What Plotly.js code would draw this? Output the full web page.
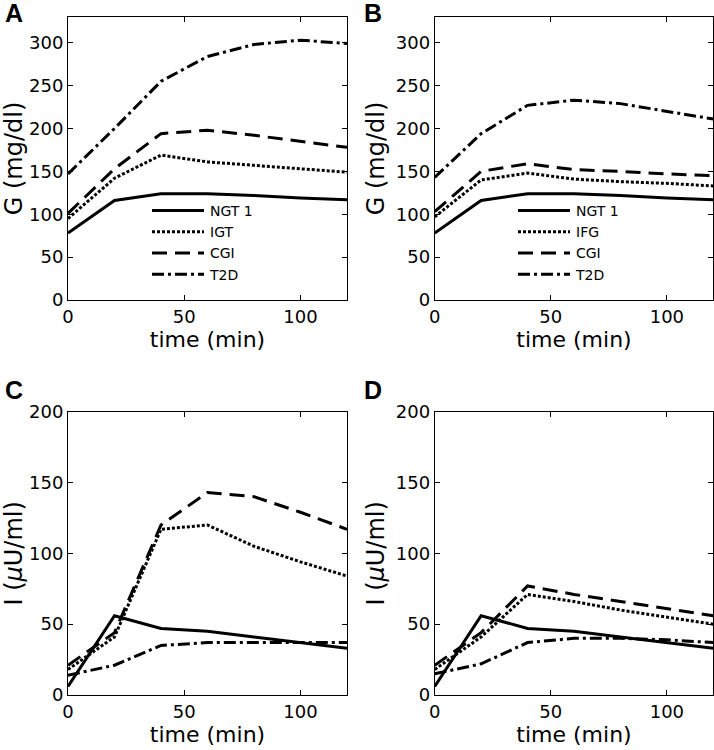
<!DOCTYPE html>
<html>
<head>
<meta charset="utf-8">
<script src="https://cdn.plot.ly/plotly-3.0.1.min.js"></script>
<style>html,body{margin:0;padding:0;background:#fff;}#chart{width:714px;height:750px;}</style>
</head>
<body>
<div id="chart"></div>
<script>
// Time points (min)
const time = [0, 20, 40, 60, 80, 100, 120];

// Panel A: glucose G (mg/dl)
const ngt_G  = [78, 116, 124, 124, 122, 119, 117];
const igt_G  = [95, 142, 169, 161, 157, 153, 149];
const cgiA_G = [101, 153, 194, 198, 192, 185, 178];
const t2dA_G = [147, 200, 255, 284, 298, 303, 299];

// Panel B: glucose G (mg/dl)
const ifg_G  = [97, 140, 148, 141, 138, 136, 133];
const cgiB_G = [103, 150, 159, 152, 150, 147, 145];
const t2dB_G = [143, 194, 227, 233, 229, 220, 211];

// Panel C: insulin I (µU/ml)
const ngt_I  = [6, 56, 47, 45, 41, 37, 33];
const igt_I  = [18, 41, 117, 120, 105, 94, 84];
const cgiC_I = [21, 44, 120, 143, 140, 129, 117];
const t2dC_I = [14, 21, 35, 37, 37, 37, 37];

// Panel D: insulin I (µU/ml)
const ifg_I  = [18, 41, 71, 66, 60, 55, 50];
const cgiD_I = [21, 44, 77, 71, 66, 61, 56];
const t2dD_I = [15, 22, 37, 40, 40, 39, 37];

const names = {ngt: 'NGT 1', igt: 'IGT', ifg: 'IFG', cgi: 'CGI', t2d: 'T2D'};

const W = 3;
const styles = {
  solid:  {color: '#000', width: W, dash: 'solid'},
  dot:    {color: '#000', width: W, dash: '3px,2px'},
  dash:   {color: '#000', width: W, dash: '15px,8px'},
  dashdot:{color: '#000', width: W, dash: '12px,4px,3px,4px'}
};

function tr(y, name, st, xa, ya, leg, show) {
  return {x: time, y: y, name: name, type: 'scatter', mode: 'lines',
    line: styles[st], xaxis: xa, yaxis: ya, legend: leg, showlegend: show, hoverinfo: 'skip'};
}

const data = [
  tr(ngt_G, names.ngt, 'solid', 'x', 'y', 'legend', true),
  tr(igt_G, names.igt, 'dot', 'x', 'y', 'legend', true),
  tr(cgiA_G, names.cgi, 'dash', 'x', 'y', 'legend', true),
  tr(t2dA_G, names.t2d, 'dashdot', 'x', 'y', 'legend', true),

  tr(ngt_G, names.ngt, 'solid', 'x2', 'y2', 'legend2', true),
  tr(ifg_G, names.ifg, 'dot', 'x2', 'y2', 'legend2', true),
  tr(cgiB_G, names.cgi, 'dash', 'x2', 'y2', 'legend2', true),
  tr(t2dB_G, names.t2d, 'dashdot', 'x2', 'y2', 'legend2', true),

  tr(ngt_I, names.ngt, 'solid', 'x3', 'y3', 'legend', false),
  tr(igt_I, names.igt, 'dot', 'x3', 'y3', 'legend', false),
  tr(cgiC_I, names.cgi, 'dash', 'x3', 'y3', 'legend', false),
  tr(t2dC_I, names.t2d, 'dashdot', 'x3', 'y3', 'legend', false),

  tr(ngt_I, names.ngt, 'solid', 'x4', 'y4', 'legend', false),
  tr(ifg_I, names.ifg, 'dot', 'x4', 'y4', 'legend', false),
  tr(cgiD_I, names.cgi, 'dash', 'x4', 'y4', 'legend', false),
  tr(t2dD_I, names.t2d, 'dashdot', 'x4', 'y4', 'legend', false)
];

const FONT = 'DejaVu Sans, sans-serif';
const xdomL = [68/714, 347/714], xdomR = [434.7/714, 713.3/714];
const ydomT = [1 - 300/750, 1 - 17/750], ydomB = [1 - 695/750, 1 - 411.7/750];

function ax(extra) {
  return Object.assign({
    showline: true, linecolor: '#000', linewidth: 1, mirror: 'ticks',
    ticks: 'inside', ticklen: 5, tickwidth: 1, tickcolor: '#000',
    showgrid: false, zeroline: false, fixedrange: true,
    tickfont: {family: FONT, size: 18, color: '#000'}
  }, extra);
}
function xax(dom, anchor) {
  return ax({domain: dom, anchor: anchor, range: [0, 120], tickvals: [0, 50, 100],
    title: {text: 'time (min)', font: {family: FONT, size: 22, color: '#000'}, standoff: 4}});
}
function yax(dom, anchor, top, label) {
  return ax({domain: dom, anchor: anchor, range: [0, top], dtick: 50,
    title: {text: label, font: {family: FONT, size: 24, color: '#000'}, standoff: 4}});
}

const G_LABEL = 'G (mg/dl)';
const I_LABEL = 'I (<i>μ</i>U/ml)';

const legBase = {bgcolor: 'rgba(0,0,0,0)', borderwidth: 0, font: {family: FONT, size: 14, color: '#000'},
  xanchor: 'left', yanchor: 'top', tracegroupgap: 0, itemclick: false, itemdoubleclick: false,
  itemwidth: 53};

function panelLabel(txt, xpx, ypx) {
  return {text: '<b>' + txt + '</b>', x: xpx/714, y: 1 - ypx/750, xref: 'paper', yref: 'paper',
    xanchor: 'left', yanchor: 'middle', showarrow: false,
    font: {family: 'Liberation Sans, Arial, sans-serif', size: 25, color: '#000'}};
}

const layout = {
  width: 714, height: 750,
  margin: {l: 0, r: 0, t: 0, b: 0},
  paper_bgcolor: '#fff', plot_bgcolor: '#fff',
  showlegend: true,
  xaxis: xax(xdomL, 'y'),
  yaxis: yax(ydomT, 'x', 330, G_LABEL),
  xaxis2: xax(xdomR, 'y2'),
  yaxis2: yax(ydomT, 'x2', 330, G_LABEL),
  xaxis3: xax(xdomL, 'y3'),
  yaxis3: yax(ydomB, 'x3', 200, I_LABEL),
  xaxis4: xax(xdomR, 'y4'),
  yaxis4: yax(ydomB, 'x4', 200, I_LABEL),
  legend: Object.assign({}, legBase, {x: 147/714, y: 1 - 195/750}),
  legend2: Object.assign({}, legBase, {x: 513/714, y: 1 - 195/750}),
  annotations: [
    panelLabel('A', 3, 13), panelLabel('B', 362, 13),
    panelLabel('C', 3, 390), panelLabel('D', 362, 390)
  ]
};

Plotly.newPlot('chart', data, layout, {staticPlot: true, displayModeBar: false}).then(function (gd) {
  // lengthen the legend line samples to match the reference
  gd.querySelectorAll('.legendlines path').forEach(function (p) {
    p.setAttribute('d', 'M5,0h52');
  });
});
</script>
</body>
</html>
